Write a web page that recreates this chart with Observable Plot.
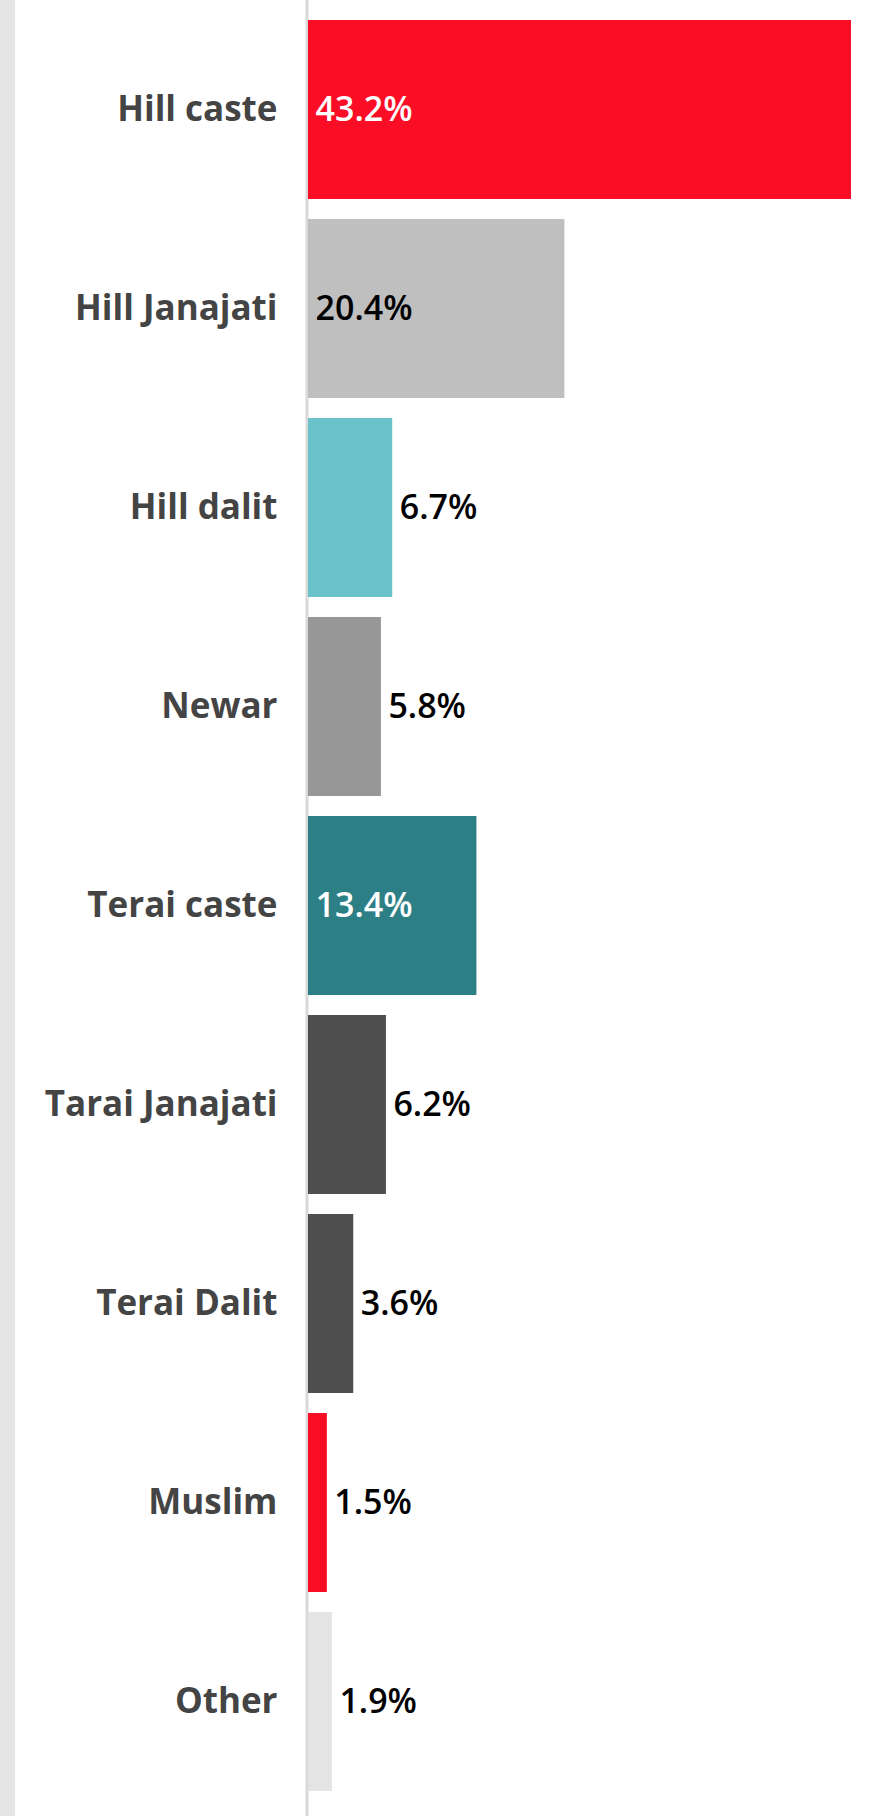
<!DOCTYPE html>
<html>
<head>
<meta charset="utf-8">
<script src="https://cdn.jsdelivr.net/npm/d3@7"></script>
<script src="https://cdn.jsdelivr.net/npm/@observablehq/plot@0.6"></script>
<style>
  html, body { margin: 0; padding: 0; }
  body {
    width: 869px; height: 1816px; overflow: hidden;
    background: linear-gradient(to right, #e4e4e4 15px, #ffffff 15px);
    font-family: "Open Sans", sans-serif;
  }
  #chart svg { background: transparent !important; }
</style>
</head>
<body>
<div id="chart"></div>
<script>
const categories = ["Hill caste", "Hill Janajati", "Hill dalit", "Newar", "Terai caste", "Tarai Janajati", "Terai Dalit", "Muslim", "Other"];
const values = [43.2, 20.4, 6.7, 5.8, 13.4, 6.2, 3.6, 1.5, 1.9];
const barColors = ["#fb0d26", "#bfbfbf", "#6bc2cb", "#979797", "#2d7f86", "#4e4e4e", "#4e4e4e", "#fb0d26", "#e4e4e4"];

const data = categories.map((c, i) => ({category: c, value: values[i]}));
const colorOf = new Map(categories.map((c, i) => [c, barColors[i]]));
const insideThreshold = 10;
const inside = data.filter(d => d.value > insideThreshold);
const outside = data.filter(d => d.value <= insideThreshold);
const insideFill = d => d3.lab(colorOf.get(d.category)).l > 60 ? "#000000" : "#ffffff";

const chart = Plot.plot({
  width: 869,
  height: 1816,
  marginLeft: 308,
  marginRight: 18,
  marginTop: 0,
  marginBottom: 4,
  style: {background: "transparent", fontFamily: "Open Sans, sans-serif"},
  x: {domain: [0, d3.max(values)], axis: null},
  y: {domain: categories, padding: 0.1, axis: null},
  color: {domain: categories, range: barColors},
  marks: [
    Plot.ruleX([0], {stroke: "#d9d9d9", strokeWidth: 3, dx: -1.5, insetBottom: -4}),
    Plot.barX(data, {x: "value", y: "category", fill: "category"}),
    Plot.axisY({label: null, tickSize: 0, tickPadding: 31, fontSize: 35, fontWeight: 700, fill: "#444444", textAnchor: "end"}),
    Plot.text(inside, {x: 0, y: "category", text: d => d.value.toFixed(1) + "%", textAnchor: "start", dx: 7, fontSize: 34, fontWeight: 600, fill: insideFill}),
    Plot.text(outside, {x: "value", y: "category", text: d => d.value.toFixed(1) + "%", textAnchor: "start", dx: 7, fontSize: 34, fontWeight: 600, fill: "#000000"})
  ]
});
document.getElementById("chart").appendChild(chart);
</script>
</body>
</html>
